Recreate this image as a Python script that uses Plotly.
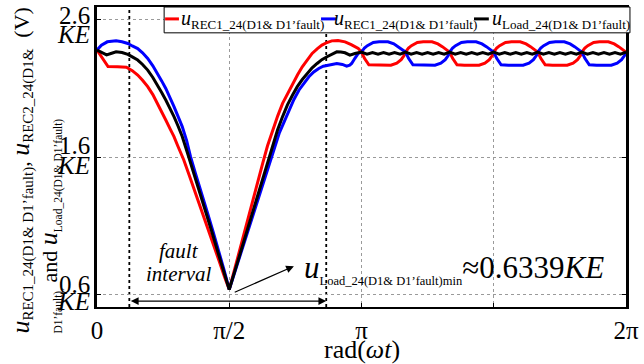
import plotly.graph_objects as go

# ---------------- data (x in degrees of wt, y in units of KE) ----------------
red_x = [0, 3, 7.5, 14, 20, 24, 27.7, 31, 34.5, 38, 41.2, 44, 46.8, 50, 52.4, 55, 59, 63, 67, 71,
         75, 79, 83, 87, 90, 94, 98, 102, 106, 110, 112.8, 116, 119.5, 123, 126.3, 130, 133, 136.5,
         139.7, 143, 146.4, 150, 153.1, 156.5, 159.8, 164, 168.8, 173, 177.8, 180,
         182, 185, 190, 195, 200, 204, 207, 209, 210,
         212, 214, 218, 222, 228, 232, 235, 238, 240,
         242, 245, 250, 255, 260, 264, 267, 269, 270,
         272, 274, 278, 282, 288, 292, 295, 298, 300,
         302, 305, 310, 315, 320, 324, 327, 329, 330,
         332, 334, 338, 342, 348, 352, 355, 358, 360]
red_y = [2.38, 2.33, 2.26, 2.258, 2.255, 2.23, 2.198, 2.16, 2.113, 2.055, 1.991, 1.93, 1.87, 1.80,
         1.749, 1.68, 1.58, 1.46, 1.34, 1.215, 1.09, 0.97, 0.845, 0.72, 0.634, 0.795, 0.96, 1.12,
         1.285, 1.445, 1.555, 1.68, 1.798, 1.9, 1.991, 2.07, 2.137, 2.2, 2.258, 2.31, 2.355, 2.39,
         2.416, 2.435, 2.447, 2.45, 2.44, 2.42, 2.391, 2.365,
         2.32, 2.272, 2.27, 2.27, 2.27, 2.285, 2.31, 2.34, 2.365,
         2.395, 2.412, 2.435, 2.44, 2.44, 2.425, 2.405, 2.38, 2.365,
         2.32, 2.272, 2.27, 2.27, 2.27, 2.285, 2.31, 2.34, 2.365,
         2.395, 2.412, 2.435, 2.44, 2.44, 2.425, 2.405, 2.38, 2.365,
         2.32, 2.272, 2.27, 2.27, 2.27, 2.285, 2.31, 2.34, 2.365,
         2.395, 2.412, 2.435, 2.44, 2.44, 2.425, 2.405, 2.38, 2.365]

blue_x = [0, 3, 7, 13, 17, 21, 24, 27.7, 31, 34.5, 38, 41.2, 44, 46.8, 50, 52.4, 55, 58, 61, 63.6,
          67, 71, 75, 79, 83, 86.5, 90, 94, 98, 102, 106, 110, 114, 117.3, 120.5, 124, 127.5,
          130.8, 134, 137.5, 141, 144.2, 147.5, 150.9, 154, 157.6, 163.2, 167, 169.9, 172, 173.3,
          175.5, 177.8, 180,
          182, 184, 188, 192, 198, 202, 205, 208, 210,
          212, 215, 220, 225, 230, 234, 237, 239, 240,
          242, 244, 248, 252, 258, 262, 265, 268, 270,
          272, 275, 280, 285, 290, 294, 297, 299, 300,
          302, 304, 308, 312, 318, 322, 325, 328, 330,
          332, 335, 340, 345, 350, 354, 357, 359, 360]
blue_y = [2.38, 2.415, 2.44, 2.447, 2.44, 2.428, 2.41, 2.391, 2.36, 2.319, 2.265, 2.209, 2.155,
          2.10, 2.03, 1.967, 1.9, 1.822, 1.72, 1.604, 1.48, 1.345, 1.2, 1.055, 0.91, 0.775, 0.634,
          0.77, 0.9, 1.04, 1.175, 1.31, 1.445, 1.555, 1.67, 1.773, 1.86, 1.943, 2.02, 2.089, 2.14,
          2.185, 2.22, 2.246, 2.262, 2.27, 2.282, 2.275, 2.263, 2.27, 2.282, 2.32, 2.355, 2.365,
          2.395, 2.412, 2.435, 2.44, 2.44, 2.425, 2.405, 2.38, 2.365,
          2.32, 2.272, 2.27, 2.27, 2.27, 2.285, 2.31, 2.34, 2.365,
          2.395, 2.412, 2.435, 2.44, 2.44, 2.425, 2.405, 2.38, 2.365,
          2.32, 2.272, 2.27, 2.27, 2.27, 2.285, 2.31, 2.34, 2.365,
          2.395, 2.412, 2.435, 2.44, 2.44, 2.425, 2.405, 2.38, 2.365,
          2.32, 2.272, 2.27, 2.27, 2.27, 2.285, 2.31, 2.34, 2.365]

load_x = [0, 3, 6.5, 10, 13, 17, 21, 24, 27.7, 31, 34.5, 38, 41.2, 44, 46.8, 50, 52.4, 55, 58, 62,
          66, 70, 74, 78, 82, 86, 90, 94, 98, 102, 106, 110, 113, 116.2, 119.5, 122.9, 126.3,
          129.6, 133, 136.3, 139.7, 143, 146.4, 149.8, 153, 156.5, 160, 163.2, 166, 168.8, 172.1,
          175.5, 180,
          183.75, 187.5, 191.25, 195, 198.75, 202.5, 206.25, 210, 213.75, 217.5, 221.25, 225,
          228.75, 232.5, 236.25, 240, 243.75, 247.5, 251.25, 255, 258.75, 262.5, 266.25, 270,
          273.75, 277.5, 281.25, 285, 288.75, 292.5, 296.25, 300, 303.75, 307.5, 311.25, 315,
          318.75, 322.5, 326.25, 330, 333.75, 337.5, 341.25, 345, 348.75, 352.5, 356.25, 360]
load_y = [2.38, 2.362, 2.345, 2.357, 2.367, 2.362, 2.348, 2.33, 2.307, 2.275, 2.234, 2.18, 2.125,
          2.07, 2.016, 1.95, 1.895, 1.83, 1.75, 1.615, 1.48, 1.345, 1.2, 1.06, 0.915, 0.775, 0.634,
          0.775, 0.915, 1.055, 1.2, 1.34, 1.445, 1.555, 1.685, 1.798, 1.895, 1.98, 2.05, 2.113,
          2.165, 2.209, 2.25, 2.282, 2.31, 2.331, 2.352, 2.367, 2.366, 2.36, 2.343, 2.355, 2.365,
          2.35, 2.362, 2.35, 2.362, 2.35, 2.362, 2.35, 2.365, 2.35, 2.362, 2.35, 2.362,
          2.35, 2.362, 2.35, 2.365, 2.35, 2.362, 2.35, 2.362, 2.35, 2.362, 2.35, 2.365,
          2.35, 2.362, 2.35, 2.362, 2.35, 2.362, 2.35, 2.365, 2.35, 2.362, 2.35, 2.362,
          2.35, 2.362, 2.35, 2.365, 2.35, 2.362, 2.35, 2.362, 2.35, 2.362, 2.35, 2.365]

x_tickvals = [0, 90, 180, 270, 360]
x_ticktext = ["0", "π/2", "π", "", "2π"]
y_tickvals = [0.6, 1.6, 2.6]
y_ticknums = ["0.6", "1.6", "2.6"]
y_tickunit = "KE"
fault_bounds = [22, 156]
load_min_x = 90
load_min_y = 0.634

subjects = ["REC1_24(D1&amp; D1’fault)", "REC1_24(D1&amp; D1’fault)", "Load_24(D1&amp; D1’fault)"]
colors = ["#ff0000", "#0000ff", "#000000"]

FONT = "Liberation Serif, Times New Roman, Times, DejaVu Serif, serif"

fig = go.Figure()
for xs, ys, subj, col in [(red_x, red_y, subjects[0], colors[0]),
                          (blue_x, blue_y, subjects[1], colors[1]),
                          (load_x, load_y, subjects[2], colors[2])]:
    fig.add_trace(go.Scatter(x=xs, y=ys, mode="lines", name="<i>u</i><sub>%s</sub>" % subj,
                             line=dict(color=col, width=3), showlegend=False))

for xb in fault_bounds:
    fig.add_shape(type="line", xref="x", yref="paper", x0=xb, x1=xb, y0=0, y1=1,
                  line=dict(color="black", width=1.8, dash="dot"), layer="below")

fig.update_layout(
    width=644, height=364,
    margin=dict(l=97, r=11, t=5, b=57),
    paper_bgcolor="white", plot_bgcolor="white",
    font=dict(family=FONT, color="black", size=20),
    showlegend=False,
)
fig.update_xaxes(range=[0, 360], tickvals=x_tickvals, ticktext=x_ticktext,
                 ticks="inside", ticklen=4, tickcolor="black",
                 showgrid=True, gridcolor="#9a9a9a", griddash="dot", gridwidth=1,
                 showline=True, linecolor="black", linewidth=2, mirror="ticks",
                 zeroline=False, tickfont=dict(family=FONT, size=25),
                 ticklabeloverflow="allow")
fig.update_yaxes(range=[0.506, 2.694], tickvals=y_tickvals, showticklabels=False,
                 ticks="inside", ticklen=4, tickcolor="black",
                 showgrid=True, gridcolor="#9a9a9a", griddash="dot", gridwidth=1,
                 showline=True, linecolor="black", linewidth=2.5, mirror="ticks",
                 zeroline=False)

# y tick labels (number above, KE below)
num_shift = [10, 12, 4]
unit_shift = [-7, -8, -15]
for v, t, s1, s2 in zip(y_tickvals, y_ticknums, num_shift, unit_shift):
    fig.add_annotation(xref="paper", yref="y", x=-0.009, y=v, xanchor="right", yanchor="middle",
                       yshift=s1, showarrow=False, text=t, font=dict(family=FONT, size=25))
    fig.add_annotation(xref="paper", yref="y", x=-0.009, y=v, xanchor="right", yanchor="middle",
                       yshift=s2, showarrow=False, text="<i>%s</i>" % y_tickunit,
                       font=dict(family=FONT, size=25))

# x axis title
fig.add_annotation(xref="paper", yref="paper", x=0.5, y=-0.14, xanchor="center",
                   yanchor="middle", showarrow=False, text="rad(<i>ωt</i>)",
                   font=dict(family=FONT, size=26))

# y-axis title (two rotated lines)
S1 = '<span style="font-size:15px">%s</span>'
S2 = '<span style="font-size:11.5px">%s</span>'
fig.add_annotation(
    xref="paper", yref="paper", x=-0.117, y=-0.095, xanchor="center", yanchor="bottom",
    textangle=-90, align="left", showarrow=False,
    font=dict(family=FONT, size=22),
    text=('<span style="font-size:26px"><i>u</i></span><sub>' + S1 % "REC1_24(D1&amp; D1’fault)"
          + '</sub>, <span style="font-size:26px"><i>u</i></span><sub>' + S1 % "REC2_24(D1&amp;"
          + '</sub>  (V)<br>'
          + '<sub>' + S2 % "D1’fault)," + '</sub> and <span style="font-size:26px"><i>u</i></span><sub>'
          + S2 % "Load_24(D1&amp; D1’fault)" + '</sub>'))

# manual legend box
fig.add_shape(type="rect", xref="paper", yref="paper", x0=0.1269, x1=1.0075, y0=0.9139, y1=1.0,
              line=dict(color="black", width=1), fillcolor="white", layer="above")
leg_line_x = [(0.1287, 0.1549), (0.4235, 0.4515), (0.7127, 0.7407)]
leg_text_x = [0.1549, 0.4440, 0.7425]
for (lx0, lx1), tx, subj, col in zip(leg_line_x, leg_text_x, subjects, colors):
    fig.add_shape(type="line", xref="paper", yref="paper", x0=lx0, x1=lx1, y0=0.9603, y1=0.9603,
                  line=dict(color=col, width=3), layer="above")
    fig.add_annotation(xref="paper", yref="paper", x=tx, y=0.958, xanchor="left",
                       yanchor="middle", showarrow=False,
                       text='<i>u</i><sub><span style="font-size:13px">%s</span></sub>' % subj,
                       font=dict(family=FONT, size=20))

# fault interval label
fig.add_annotation(x=55.7, y=0.913, xref="x", yref="y", showarrow=False,
                   text="<i>fault</i>", font=dict(family=FONT, size=21))
fig.add_annotation(x=55.7, y=0.745, xref="x", yref="y", showarrow=False,
                   text="<i>interval</i>", font=dict(family=FONT, size=21))
# double arrow for the fault interval
fig.add_annotation(x=fault_bounds[1], y=0.549, ax=fault_bounds[0], ay=0.549,
                   xref="x", yref="y", axref="x", ayref="y", text="", showarrow=True,
                   arrowhead=2, arrowside="end+start", arrowsize=1.2, arrowwidth=1.3,
                   arrowcolor="black")
# arrow to the minimum
fig.add_annotation(x=134, y=0.804, ax=load_min_x + 2.7, ay=load_min_y - 0.025,
                   xref="x", yref="y", axref="x", ayref="y", text="", showarrow=True,
                   arrowhead=2, arrowsize=1.3, arrowwidth=1.2, arrowcolor="black")
fig.add_annotation(x=139.5, y=0.78, xref="x", yref="y", xanchor="left", showarrow=False,
                   text=('<i>u</i><sub><span style="font-size:12.5px">Load_24(D1&amp; D1’fault)min'
                         '</span></sub>≈0.6339<i>KE</i>'),
                   font=dict(family=FONT, size=31))

fig.write_html("out.html")
